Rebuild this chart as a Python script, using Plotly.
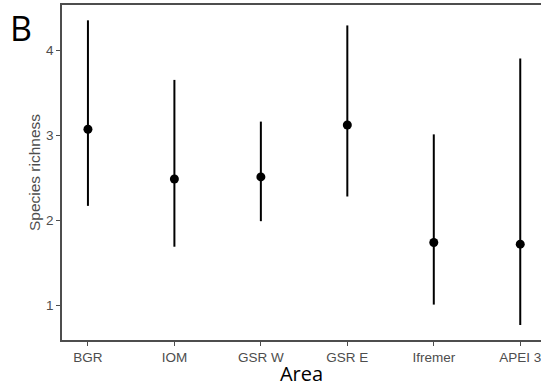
import plotly.graph_objects as go

areas = ["BGR", "IOM", "GSR W", "GSR E", "Ifremer", "APEI 3"]
mean_richness = [3.07, 2.485, 2.51, 3.12, 1.74, 1.72]
upper = [4.35, 3.65, 3.16, 4.29, 3.01, 3.90]
lower = [2.17, 1.69, 1.99, 2.28, 1.01, 0.77]

err_plus = [u - m for u, m in zip(upper, mean_richness)]
err_minus = [m - l for m, l in zip(mean_richness, lower)]

W, H = 541, 387
L, R, T, B = 62, 0, 5, 47

fig = go.Figure()
fig.add_trace(go.Scatter(
    x=areas, y=mean_richness, mode="markers",
    marker=dict(color="black", size=9),
    error_y=dict(type="data", array=err_plus, arrayminus=err_minus,
                 color="black", thickness=2, width=0),
    showlegend=False, cliponaxis=False,
))

axis_col = "#4d4d4d"
fig.update_layout(
    width=W, height=H,
    margin=dict(l=L, r=R, t=T, b=B),
    plot_bgcolor="white", paper_bgcolor="white",
    xaxis=dict(
        type="category", range=[-0.3, 5.24],
        showgrid=False, zeroline=False,
        showline=True, linecolor=axis_col, linewidth=1.5, mirror=True,
        ticks="outside", ticklen=4, tickcolor=axis_col, tickwidth=1,
        tickfont=dict(family="Liberation Sans, Arial", size=13.5, color=axis_col),
        title=dict(text="Area", font=dict(family="Open Sans", size=20, color="black"), standoff=0),
    ),
    yaxis=dict(
        range=[0.594, 4.53],
        tickvals=[1, 2, 3, 4],
        showgrid=False, zeroline=False,
        showline=True, linecolor=axis_col, linewidth=1.5,
        ticks="outside", ticklen=4, tickcolor=axis_col, tickwidth=1,
        tickfont=dict(family="Liberation Sans, Arial", size=13.5, color=axis_col),
        title=dict(text="Species richness", font=dict(family="Liberation Sans, Arial", size=15.5, color=axis_col), standoff=2),
    ),
    annotations=[dict(
        text="B", xref="paper", yref="paper",
        x=(8 - L) / (W - L - R), y=1 - (28 - T) / (H - T - B),
        xanchor="left", yanchor="middle",
        showarrow=False,
        font=dict(family="Open Sans", size=34, color="black"),
    )],
)

fig.write_html("out.html")
